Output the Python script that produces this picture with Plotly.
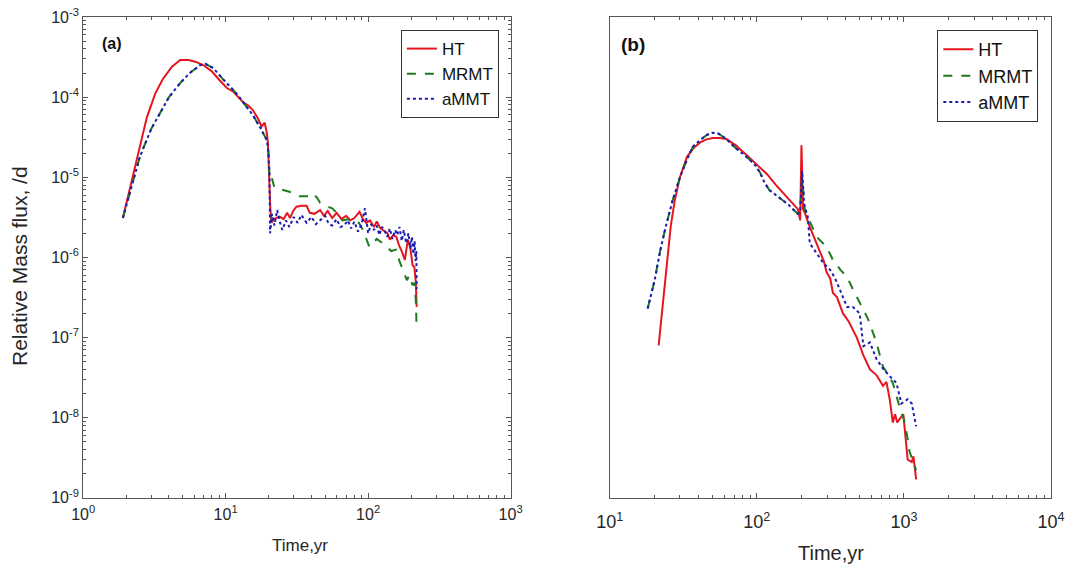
import plotly.graph_objects as go

# ---------------- Panel (a) data ----------------
a_ht_t = [1.9, 2.1, 2.4, 2.8, 3.2, 3.6, 4.2, 4.8, 5.5, 6.2, 7.0, 8.0, 9.0, 10.2, 11.3, 12.2, 13.2,
          14.5, 15.5, 16.8, 17.9, 18.8, 19.5, 19.8, 20.2, 20.6, 21.0, 21.5, 22.5, 24, 25.5, 27, 28.3,
          29.8, 31.4, 34, 37, 39, 42, 46, 49, 52, 56, 60, 65, 70, 75, 80, 87, 92, 97, 103, 110, 115,
          122, 130, 137, 142, 150, 158, 165, 172, 181, 190, 198, 205, 211, 216, 219]
a_ht_v = [3.1e-6, 6.5e-6, 1.8e-5, 5.6e-5, 1.1e-4, 1.65e-4, 2.4e-4, 2.9e-4, 2.9e-4, 2.75e-4, 2.5e-4,
          2.1e-4, 1.65e-4, 1.3e-4, 1.17e-4, 1.0e-4, 8.7e-5, 7.8e-5, 6.9e-5, 5.5e-5, 4.3e-5, 4.8e-5,
          3.5e-5, 2.7e-5, 1.0e-5, 4e-6, 2.7e-6, 2.9e-6, 3.1e-6, 3.2e-6, 3.0e-6, 3.6e-6, 3.1e-6,
          3.8e-6, 4.3e-6, 4.4e-6, 4.4e-6, 3.6e-6, 3.5e-6, 3.9e-6, 3.3e-6, 3.8e-6, 3.1e-6, 3.6e-6,
          3.0e-6, 3.3e-6, 2.9e-6, 3.1e-6, 3.7e-6, 3.0e-6, 2.7e-6, 2.9e-6, 2.4e-6, 2.8e-6, 2.3e-6,
          2.1e-6, 2.0e-6, 1.66e-6, 1.9e-6, 1.8e-6, 1.4e-6, 1.2e-6, 9.3e-7, 1.66e-6, 1.3e-6, 8e-7,
          7.6e-7, 5e-7, 2.4e-7]

a_rise_t = [1.9, 2.1, 2.5, 3.0, 3.47, 4.0, 4.8, 5.6, 6.6, 7.2, 8.2, 9.5, 11.3, 12.5, 14.0, 15.5,
            17.3, 19.5, 20.0, 20.3]
a_rise_v = [3.1e-6, 6e-6, 1.8e-5, 4e-5, 6.3e-5, 1.0e-4, 1.5e-4, 2.0e-4, 2.5e-4, 2.6e-4, 2.3e-4,
            1.7e-4, 1.23e-4, 1.0e-4, 7.6e-5, 6e-5, 4.3e-5, 2.9e-5, 2e-5, 1.1e-5]

a_mrmt_tail_t = [20.5, 22, 25, 28, 33, 38, 41, 44, 46, 50, 56, 62, 66, 72, 80, 86, 92, 102, 115,
                 130, 145, 158, 166, 175, 187, 195, 205, 211, 216, 219]
a_mrmt_tail_v = [1.2e-5, 7.4e-6, 7e-6, 6.6e-6, 5.8e-6, 5.8e-6, 6.3e-6, 5.5e-6, 4.8e-6, 4.4e-6,
                 4.1e-6, 3.4e-6, 2.9e-6, 3.0e-6, 2.9e-6, 2.7e-6, 2.2e-6, 1.35e-6, 1.7e-6, 1.45e-6,
                 1.2e-6, 1.25e-6, 9e-7, 7e-7, 5.2e-7, 6e-7, 4.5e-7, 4.8e-7, 3e-7, 1.3e-7]

a_ammt_tail_t = [20.5, 21.2, 22, 23, 24, 25, 26.5, 28, 30, 32, 34, 37, 40, 43, 46, 50, 53, 56, 60,
                 64, 68, 72, 76, 80, 85, 90, 95, 98, 100, 105, 110, 115, 120, 125, 130, 136, 142,
                 148, 155, 160, 166, 172, 178, 185, 192, 198, 203, 208, 212, 215, 218, 219]
a_ammt_tail_v = [2e-6, 3.5e-6, 2.5e-6, 3.9e-6, 2.8e-6, 2.2e-6, 2.9e-6, 2.4e-6, 3.2e-6, 2.7e-6,
                 3.4e-6, 2.7e-6, 3.2e-6, 2.6e-6, 2.9e-6, 3.3e-6, 2.6e-6, 2.5e-6, 3.0e-6, 2.4e-6,
                 2.5e-6, 2.9e-6, 2.3e-6, 2.8e-6, 2.1e-6, 2.6e-6, 4.1e-6, 2.8e-6, 2.0e-6, 2.6e-6,
                 2.2e-6, 2.5e-6, 1.9e-6, 2.4e-6, 2.2e-6, 1.8e-6, 2.3e-6, 1.7e-6, 2.2e-6, 1.9e-6,
                 2.4e-6, 1.6e-6, 2.2e-6, 1.5e-6, 2.0e-6, 1.3e-6, 1.8e-6, 1.1e-6, 1.6e-6, 9e-7,
                 1.2e-6, 4e-7]

# ---------------- Panel (b) data ----------------
b_ht_t = [21.5, 24.4, 26, 27.7, 30, 33.5, 37, 41, 45, 50, 56, 62, 72, 85, 100, 117, 135, 160, 180,
          190, 197, 201, 206, 212, 229, 250, 268, 285, 298, 315, 329, 350, 385, 420, 478, 530, 587,
          650, 720, 760, 800, 840, 870, 900, 950, 990, 1060, 1130, 1160, 1210]
b_ht_v = [8e-8, 7e-7, 2.5e-6, 5.2e-6, 1.0e-5, 1.8e-5, 2.3e-5, 2.7e-5, 2.95e-5, 3.1e-5, 3.1e-5,
          3.0e-5, 2.5e-5, 1.9e-5, 1.45e-5, 1.1e-5, 8e-6, 5.7e-6, 4.4e-6, 4e-6, 2.9e-6, 2.5e-5,
          4e-6, 3.6e-6, 2.4e-6, 1.6e-6, 1.15e-6, 9e-7, 6.5e-7, 5.5e-7, 3.6e-7, 3.2e-7, 2e-7,
          1.6e-7, 1e-7, 6e-8, 4e-8, 3.4e-8, 2.5e-8, 2.8e-8, 1.7e-8, 8.7e-9, 1.1e-8, 8.7e-9,
          1.0e-8, 1.1e-8, 3e-9, 2.8e-9, 3.3e-9, 1.7e-9]

b_rise_t = [18.1, 20.2, 22, 24, 26.8, 30, 33.5, 36.7, 42, 46, 50, 55, 62, 72, 85, 95, 105, 113,
            122, 135, 150, 165, 176, 190, 197]
b_rise_v = [2.3e-7, 5.2e-7, 1.2e-6, 2.4e-6, 5.2e-6, 1.0e-5, 1.66e-5, 2.4e-5, 3.0e-5, 3.4e-5,
            3.6e-5, 3.5e-5, 3.0e-5, 2.3e-5, 1.8e-5, 1.5e-5, 1.15e-5, 8.5e-6, 6.9e-6, 6e-6, 5.2e-6,
            4.5e-6, 4e-6, 3.5e-6, 3.8e-6]

b_mrmt_tail_t = [203, 212, 230, 255, 298, 329, 370, 410, 450, 510, 570, 650, 720, 780, 840, 935,
                 1000, 1050, 1090, 1210]
b_mrmt_tail_v = [1.0e-5, 3.9e-6, 2.8e-6, 1.8e-6, 1.35e-6, 9.3e-7, 7e-7, 5.7e-7, 4e-7, 2.6e-7,
                 1.7e-7, 8.7e-8, 4.3e-8, 3.5e-8, 2.7e-8, 1.35e-8, 9.5e-9, 6e-9, 3.8e-9, 2.2e-9]

b_ammt_tail_t = [203, 210, 222, 229, 250, 283, 315, 340, 366, 410, 450, 500, 530, 587, 650, 720,
                 800, 890, 960, 1010, 1060, 1130, 1210]
b_ammt_tail_v = [1.2e-5, 4.5e-6, 3.2e-6, 1.5e-6, 1.2e-6, 8.5e-7, 7e-7, 5.5e-7, 4e-7, 2.4e-7,
                 2.4e-7, 2.0e-7, 7.8e-8, 8.7e-8, 5.4e-8, 4.1e-8, 3.3e-8, 2.7e-8, 1.5e-8, 1.6e-8,
                 1.7e-8, 1.5e-8, 7.8e-9]

series_names = ["HT", "MRMT", "aMMT"]
y_tick_exps = [-9, -8, -7, -6, -5, -4, -3]
a_x_exps = [0, 1, 2, 3]
b_x_exps = [1, 2, 3, 4]

RED = "#e5161d"
GREEN = "#1f7a1f"
BLUE = "#1c1cb0"

fig = go.Figure()

def add_panel(xa, ya, legend, ht_t, ht_v, rise_t, rise_v, mr_t, mr_v, am_t, am_v):
    fig.add_trace(go.Scatter(x=ht_t, y=ht_v, mode="lines", name=series_names[0],
                             line=dict(color=RED, width=2), xaxis=xa, yaxis=ya, legend=legend))
    fig.add_trace(go.Scatter(x=rise_t + mr_t, y=rise_v + mr_v, mode="lines", name=series_names[1],
                             line=dict(color=GREEN, width=2, dash="dash"), xaxis=xa, yaxis=ya,
                             legend=legend))
    fig.add_trace(go.Scatter(x=rise_t + am_t, y=rise_v + am_v, mode="lines", name=series_names[2],
                             line=dict(color=BLUE, width=2, dash="dot"), xaxis=xa, yaxis=ya,
                             legend=legend))

add_panel("x", "y", "legend", a_ht_t, a_ht_v, a_rise_t, a_rise_v,
          a_mrmt_tail_t, a_mrmt_tail_v, a_ammt_tail_t, a_ammt_tail_v)
add_panel("x2", "y2", "legend2", b_ht_t, b_ht_v, b_rise_t, b_rise_v,
          b_mrmt_tail_t, b_mrmt_tail_v, b_ammt_tail_t, b_ammt_tail_v)

def pw(e):
    return "10<sup>%d</sup>" % e

def minor_vals(exps):
    return [m * 10 ** e for e in exps[:-1] for m in range(2, 10)]

axis_common = dict(type="log", showline=True, linecolor="#555", linewidth=1, mirror="ticks",
                   ticks="inside", ticklen=5, tickcolor="#555", showgrid=False, zeroline=False,
                   automargin=False)

TXT = "#262626"
FONT = "Liberation Sans, Arial, sans-serif"

fig.update_layout(
    width=1066, height=567, paper_bgcolor="white", plot_bgcolor="white",
    margin=dict(l=0, r=0, t=0, b=0), showlegend=True,
    font=dict(family=FONT, color=TXT, size=14),
    xaxis=dict(axis_common, domain=[0.078, 0.479], range=[0, 3],
               tickvals=[10 ** e for e in a_x_exps], ticktext=[pw(e) for e in a_x_exps],
               tickfont=dict(size=16), anchor="y", ticklabelstandoff=2,
               minor=dict(tickmode="array", tickvals=minor_vals(a_x_exps), ticks="inside",
                          ticklen=3, tickcolor="#555", showgrid=False)),
    yaxis=dict(axis_common, domain=[0.122, 0.970], range=[-9, -3],
               tickvals=[10 ** e for e in y_tick_exps], ticktext=[pw(e) for e in y_tick_exps],
               tickfont=dict(size=16), anchor="x",
               minor=dict(tickmode="array", tickvals=minor_vals(y_tick_exps), ticks="inside",
                          ticklen=3, tickcolor="#555", showgrid=False)),
    xaxis2=dict(axis_common, domain=[0.572, 0.986], range=[1, 4],
                tickvals=[10 ** e for e in b_x_exps], ticktext=[pw(e) for e in b_x_exps],
                tickfont=dict(size=18), anchor="y2", ticklabelstandoff=8,
                minor=dict(tickmode="array", tickvals=minor_vals(b_x_exps), ticks="inside",
                           ticklen=3, tickcolor="#555", showgrid=False)),
    yaxis2=dict(axis_common, domain=[0.122, 0.970], range=[-9, -3], anchor="x2",
                showticklabels=False, ticks=""),
    legend=dict(x=0.468, y=0.947, xanchor="right", yanchor="top", bgcolor="white",
                bordercolor="#333", borderwidth=1, font=dict(size=17, color="#111"),
                tracegroupgap=0, itemwidth=30),
    legend2=dict(x=0.974, y=0.947, xanchor="right", yanchor="top", bgcolor="white",
                 bordercolor="#333", borderwidth=1, font=dict(size=18, color="#111"),
                 tracegroupgap=0, itemwidth=30),
)

# panel labels
fig.add_annotation(text="<b>(a)</b>", x=0.105, y=1 - 43 / 567, xref="paper", yref="paper",
                   showarrow=False, font=dict(size=16, color="#111"), xanchor="center",
                   yanchor="middle")
fig.add_annotation(text="<b>(b)</b>", x=0.594, y=1 - 44 / 567, xref="paper", yref="paper",
                   showarrow=False, font=dict(size=19, color="#111"), xanchor="center",
                   yanchor="middle")

# axis titles
fig.add_annotation(text="Relative Mass flux, /d", x=19 / 1066, y=1 - 266 / 567, xref="paper",
                   yref="paper", showarrow=False, textangle=-90, font=dict(size=21, color=TXT),
                   xanchor="center", yanchor="middle")
fig.add_annotation(text="Time,yr", x=300 / 1066, y=1 - 545 / 567, xref="paper", yref="paper",
                   showarrow=False, font=dict(size=17, color=TXT), xanchor="center",
                   yanchor="middle")
fig.add_annotation(text="Time,yr", x=831 / 1066, y=1 - 553 / 567, xref="paper", yref="paper",
                   showarrow=False, font=dict(size=20, color=TXT), xanchor="center",
                   yanchor="middle")

fig.write_html("out.html", config={"displayModeBar": False},
               post_script="document.body.style.margin='0';document.body.style.overflow='hidden';")
